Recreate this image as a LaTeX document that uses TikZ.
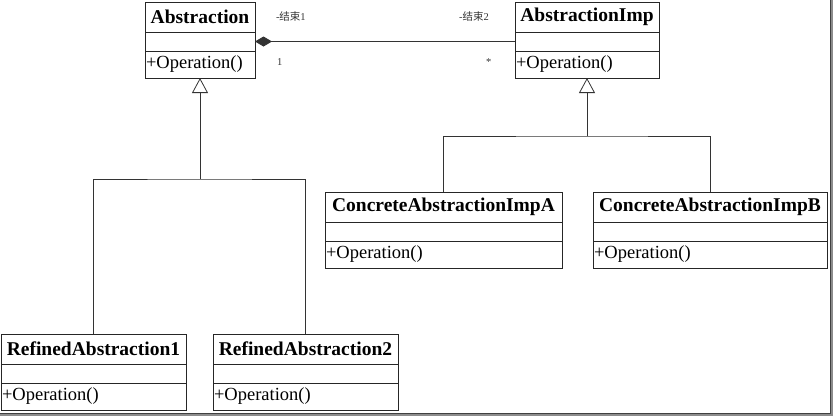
\documentclass[tikz,border=0pt]{standalone}
\usepackage{fontspec}
\setmainfont{Liberation Serif}
\newfontfamily\cjk{Noto Sans CJK SC}
\usetikzlibrary{positioning}
\usetikzlibrary{arrows.meta}

\begin{document}
\begin{tikzpicture}[x=1pt, y=-1pt, line width=0.8pt,
    every node/.style={outer sep=0pt, inner sep=0pt},
    classtitle/.style={draw=black!85, minimum height=30pt, font=\bfseries\fontsize{19.5}{20}\selectfont},
    classattr/.style={draw=black!85, minimum height=19pt},
    classops/.style={draw=black!85, minimum height=27pt, inner xsep=1pt, align=left, font=\fontsize{18.5}{19}\selectfont},
    rolelabel/.style={anchor=west, text=black!80, font=\fontsize{10.5}{11}\selectfont},
    inherit/.style={-{Triangle[open,length=15pt,width=16pt,line width=0.8pt]}},
    compose/.style={{Diamond[length=17pt,width=10pt]}-}]
    \useasboundingbox (0,0) rectangle (833,416);

    \node[classtitle, minimum width=110pt] (abs) at (200,17) {Abstraction};
    \node[classattr, minimum width=110pt, below=0pt of abs] (absAttr) {};
    \node[classops, text width=108pt, below=0pt of absAttr] (absOp) {+Operation()};

    \node[classtitle, minimum width=144pt] (imp) at (587,17) {AbstractionImp};
    \node[classattr, minimum width=144pt, below=0pt of imp] (impAttr) {};
    \node[classops, text width=142pt, below=0pt of impAttr] (impOp) {+Operation()};

    \node[classtitle, minimum width=185pt] (refA) at (93.5,349) {RefinedAbstraction1};
    \node[classattr, minimum width=185pt, below=0pt of refA] (refAAttr) {};
    \node[classops, text width=183pt, below=0pt of refAAttr] (refAOp) {+Operation()};

    \node[classtitle, minimum width=185pt] (refB) at (305.5,349) {RefinedAbstraction2};
    \node[classattr, minimum width=185pt, below=0pt of refB] (refBAttr) {};
    \node[classops, text width=183pt, below=0pt of refBAttr] (refBOp) {+Operation()};

    \node[classtitle, minimum width=237pt] (concA) at (443.5,207) {ConcreteAbstractionImpA};
    \node[classattr, minimum width=237pt, below=0pt of concA] (concAAttr) {};
    \node[classops, text width=235pt, below=0pt of concAAttr] (concAOp) {+Operation()};

    \node[classtitle, minimum width=234pt] (concB) at (710,207) {ConcreteAbstractionImpB};
    \node[classattr, minimum width=234pt, below=0pt of concB] (concBAttr) {};
    \node[classops, text width=232pt, below=0pt of concBAttr] (concBOp) {+Operation()};

    \node[rolelabel] (endA) at (276,17) {-{\cjk 结束}1};
    \node[rolelabel] (endB) at (459,17) {-{\cjk 结束}2};
    \node[rolelabel] (multA) at (277,62) {1};
    \node[rolelabel] (multB) at (486,62) {*};

    \coordinate (absJoin) at (200,179);
    \coordinate (impJoin) at (587,136);

    \draw[black!80, compose] (absAttr.east) -- (impAttr.west);
    \draw[black!80, inherit] (absJoin) -- (absOp.south);
    \draw[black!80] (refA.north) |- (absJoin) -| (refB.north);
    \draw[black!80, inherit] (impJoin) -- (impOp.south);
    \draw[black!80] (concA.north) |- (impJoin) -| (concB.north);

    \draw[black!45, line width=3pt] (831,0) -- (831,414) -- (0,414);
    \draw[black!75, line width=1pt] (830,0) -- (830,413) -- (0,413);
\end{tikzpicture}
\end{document}
